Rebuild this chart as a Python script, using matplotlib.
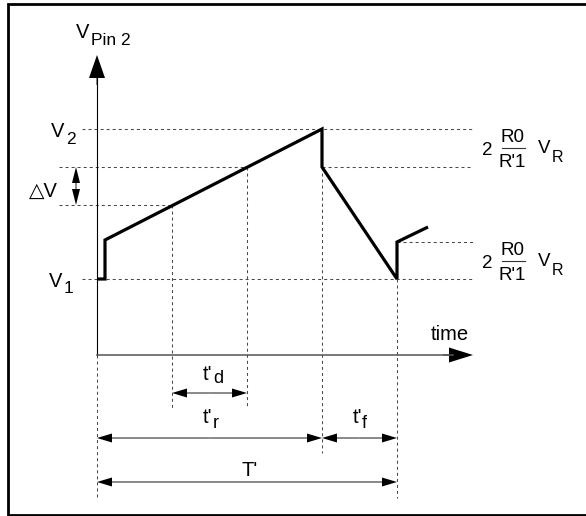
import matplotlib
matplotlib.use("Agg")
import matplotlib.pyplot as plt

plt.rcParams["font.family"] = ["Liberation Sans", "DejaVu Sans"]

# V_Pin2 waveform, time / voltage in diagram units (1 unit = 1 px)
wave_t = [0, 8, 8, 225, 225, 300, 300, 331]
wave_v = [76, 76, 115, 226, 188, 76, 113, 128]

# voltage levels
v1 = 76
v2 = 226
dv_hi = 188
dv_lo = 150
v_restart = 113

# time marks
td_start = 75
td_end = 150
tr_end = 225
T_end = 300

t_axis_end = 376
v_axis_end = 300

GUIDE = dict(color="#4a4a4a", lw=0.75, dashes=(2.9, 2.9))


def label(ax, t, v, text, size=14.5):
    ax.text(t, v, text, fontsize=size, ha="left", va="baseline")


def sub_label(ax, t, v, main, sub, ts, vs, size=14.5, subsize=12.5):
    label(ax, t, v, main, size)
    label(ax, ts, vs, sub, subsize)


def arrow(ax, t0, v0, t1, v1_, hl=15, hw=9):
    ax.arrow(t0, v0, t1 - t0, v1_ - v0, width=0.9, head_width=hw,
             head_length=hl, length_includes_head=True, fc="black",
             ec="none", lw=0)


def dim_arrow(ax, t0, t1, v):
    mid = (t0 + t1) / 2
    arrow(ax, mid, v, t0, v)
    arrow(ax, mid, v, t1, v)


def fraction_label(ax, v_mid):
    label(ax, 385, v_mid - 7, "2", 13.5)
    ax.text(415, v_mid + 6, "R0", fontsize=13.5, ha="center", va="baseline")
    ax.plot([405, 428], [v_mid, v_mid], color="#333333", lw=0.8)
    ax.text(415, v_mid - 19, "R'1", fontsize=13.5, ha="center", va="baseline")
    sub_label(ax, 441, v_mid - 5, "V", "R", 455, v_mid - 14, 13.5, 11.5)


def main():
    fig = plt.figure(figsize=(5.86, 5.16), dpi=100)
    ax = fig.add_axes([0, 0, 1, 1])
    ax.set_xlim(-97, 489)
    ax.set_ylim(-161, 355)
    ax.axis("off")

    # frame (right edge is cut off in the original)
    ax.plot([500, -89, -89, 500], [351.5, 351.5, -159.5, -159.5],
            color="black", lw=2.0, solid_joinstyle="miter")

    # dashed guides
    h_guides = [(v2, -15, t_axis_end), (dv_hi, -38, td_end),
                (dv_hi, tr_end, t_axis_end), (dv_lo, -38, td_start),
                (v1, -15, t_axis_end), (v_restart, T_end, t_axis_end)]
    for v, a, b in h_guides:
        ax.plot([a, b], [v, v], **GUIDE)
    v_guides = [(0, 0, -143), (td_start, dv_lo, -53), (td_end, dv_hi, -53),
                (tr_end, dv_hi, -98), (T_end, v1, -143)]
    for t, a, b in v_guides:
        ax.plot([t, t], [a, b], **GUIDE)

    # axes with arrows
    ax.plot([0, 0], [0, v_axis_end - 20], color="black", lw=0.8)
    arrow(ax, 0, v_axis_end - 30, 0, v_axis_end, hl=23, hw=16)
    ax.plot([0, t_axis_end - 20], [0, 0], color="#555555", lw=1.1)
    arrow(ax, t_axis_end - 30, 0, t_axis_end, 0, hl=24, hw=15)

    # waveform
    ax.plot(wave_t, wave_v, color="black", lw=2.3, solid_joinstyle="miter",
            solid_capstyle="butt")

    # delta V arrows
    arrow(ax, -21, (dv_hi + dv_lo) / 2, -21, dv_hi, hl=16, hw=8)
    arrow(ax, -21, (dv_hi + dv_lo) / 2, -21, dv_lo, hl=16, hw=8)

    # dimension arrows
    dim_arrow(ax, td_start, td_end, -38)
    dim_arrow(ax, 0, tr_end, -83)
    dim_arrow(ax, tr_end, T_end, -83)
    dim_arrow(ax, 0, T_end, -127)

    # texts
    sub_label(ax, -21, 317, "V", "Pin 2", -6, 310, 14.5, 12.5)
    sub_label(ax, -46, 218, "V", "2", -31, 211)
    sub_label(ax, -48, 68, "V", "1", -33, 62)
    label(ax, -68, 158, "\u25b3V")
    ax.text(353, 15, "time", fontsize=14.5, ha="center", va="baseline")
    sub_label(ax, 106, -25, "t'", "d", 116, -28, 14.5, 13)
    sub_label(ax, 106, -68, "t'", "r", 116, -73, 14.5, 13)
    sub_label(ax, 256, -68, "t'", "f", 265, -73, 14.5, 13)
    label(ax, 145, -121, "T'")

    fraction_label(ax, 207)
    fraction_label(ax, 94)

    fig.savefig("out.png", dpi=100)


if __name__ == "__main__":
    main()
